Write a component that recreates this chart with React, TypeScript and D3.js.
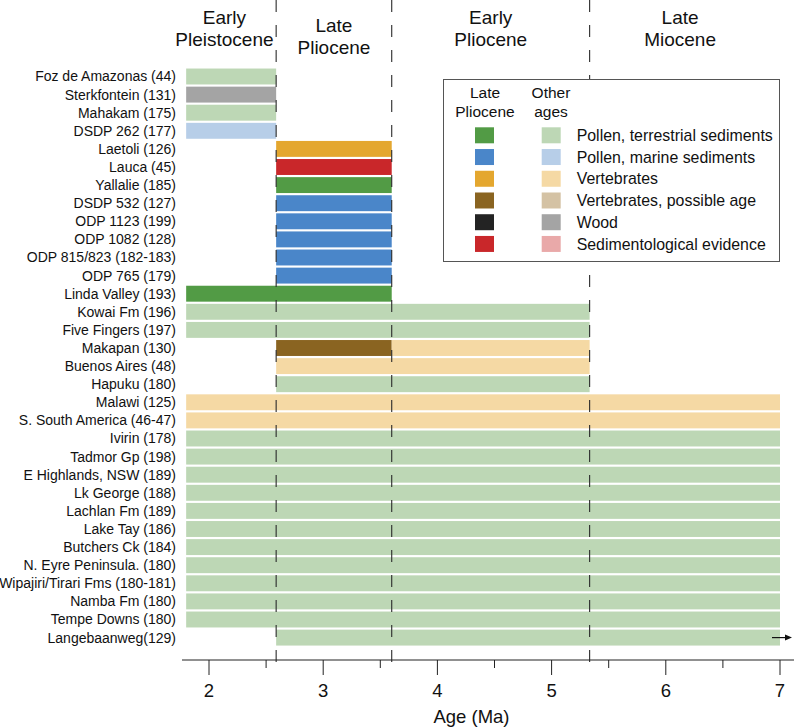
import React from "react";
import * as d3 from "d3";

const siteLabels = [
  "Foz de Amazonas (44)",
  "Sterkfontein (131)",
  "Mahakam (175)",
  "DSDP 262 (177)",
  "Laetoli (126)",
  "Lauca (45)",
  "Yallalie (185)",
  "DSDP 532 (127)",
  "ODP 1123 (199)",
  "ODP 1082 (128)",
  "ODP 815/823 (182-183)",
  "ODP 765 (179)",
  "Linda Valley (193)",
  "Kowai Fm (196)",
  "Five Fingers (197)",
  "Makapan (130)",
  "Buenos Aires (48)",
  "Hapuku (180)",
  "Malawi (125)",
  "S. South America (46-47)",
  "Ivirin (178)",
  "Tadmor Gp (198)",
  "E Highlands, NSW (189)",
  "Lk George (188)",
  "Lachlan Fm (189)",
  "Lake Tay (186)",
  "Butchers Ck (184)",
  "N. Eyre Peninsula. (180)",
  "Wipajiri/Tirari Fms (180-181)",
  "Namba Fm (180)",
  "Tempe Downs (180)",
  "Langebaanweg(129)",
];

// [siteIndex, fromAge, toAge, proxyIndex, latePliocene(1) / other ages(0)]
const segments: [number, number, number, number, number][] = [
  [0, 1.8, 2.588, 0, 0],
  [1, 1.8, 2.588, 4, 0],
  [2, 1.8, 2.588, 0, 0],
  [3, 1.8, 2.588, 1, 0],
  [4, 2.588, 3.6, 2, 1],
  [5, 2.588, 3.6, 5, 1],
  [6, 2.588, 3.6, 0, 1],
  [7, 2.588, 3.6, 1, 1],
  [8, 2.588, 3.6, 1, 1],
  [9, 2.588, 3.6, 1, 1],
  [10, 2.588, 3.6, 1, 1],
  [11, 2.588, 3.6, 1, 1],
  [12, 1.8, 3.6, 0, 1],
  [13, 1.8, 5.333, 0, 0],
  [14, 1.8, 5.333, 0, 0],
  [15, 2.588, 3.6, 3, 1],
  [15, 3.6, 5.333, 2, 0],
  [16, 2.588, 5.333, 2, 0],
  [17, 2.588, 5.333, 0, 0],
  [18, 1.8, 7, 2, 0],
  [19, 1.8, 7, 2, 0],
  [20, 1.8, 7, 0, 0],
  [21, 1.8, 7, 0, 0],
  [22, 1.8, 7, 0, 0],
  [23, 1.8, 7, 0, 0],
  [24, 1.8, 7, 0, 0],
  [25, 1.8, 7, 0, 0],
  [26, 1.8, 7, 0, 0],
  [27, 1.8, 7, 0, 0],
  [28, 1.8, 7, 0, 0],
  [29, 1.8, 7, 0, 0],
  [30, 1.8, 7, 0, 0],
  [31, 2.588, 7, 0, 0],
];

const openEndedSites = [31];

const proxyLabels = [
  "Pollen, terrestrial sediments",
  "Pollen, marine sediments",
  "Vertebrates",
  "Vertebrates, possible age",
  "Wood",
  "Sedimentological evidence",
];
const lateColors = ["#529b45", "#4a86c9", "#e4a72f", "#8a6421", "#232323", "#c9272a"];
const otherColors = ["#bdd7b5", "#b7cee8", "#f5d9a4", "#d4c2a4", "#a4a4a4", "#e9a9a9"];

const boundaries = [2.588, 3.6, 5.333];
const epochLines = [
  ["Early", "Pleistocene"],
  ["Late", "Pliocene"],
  ["Early", "Pliocene"],
  ["Late", "Miocene"],
];
const epochCenters = [2.135, 3.094, 4.467, 6.125];

const majorTicks = [2, 3, 4, 5, 6, 7];
const minorTicks = [2.5, 3.5, 4.5, 5.5, 6.5];

const W = 796;
const H = 728;
const FONT = "'Liberation Sans', Arial, Helvetica, sans-serif";

export default function App() {
  const x = d3.scaleLinear().domain([2, 7]).range([209, 780]);
  const y = d3
    .scaleBand<string>()
    .domain(siteLabels)
    .range([67.45, 67.45 + 32 * 18.1])
    .paddingInner(0.12)
    .paddingOuter(0.06);
  const axisY = 660;
  const labelRight = 176;

  const legend = { x0: 443.5, y0: 79.5, x1: 779.5, y1: 261.5 };
  const legendRow = d3.scaleLinear().domain([0, 1]).range([127.3, 127.3 + 21.73]);

  return (
    <svg
      width={W}
      height={H}
      viewBox={`0 0 ${W} ${H}`}
      style={{ position: "absolute", left: 0, top: 0, background: "#fff" }}
      fontFamily={FONT}
    >
      <rect x={0} y={0} width={W} height={H} fill="#fff" />

      {/* bars */}
      {segments.map(([si, from, to, p, late], i) => {
        const name = siteLabels[si];
        return (
          <rect
            key={i}
            x={x(from)}
            y={y(name)}
            width={x(to) - x(from)}
            height={y.bandwidth()}
            fill={late ? lateColors[p] : otherColors[p]}
          />
        );
      })}

      {/* site labels */}
      {siteLabels.map((name) => (
        <text
          key={name}
          x={labelRight}
          y={(y(name) as number) + y.bandwidth() / 2}
          dy="0.35em"
          textAnchor="end"
          fontSize={14}
          fill="#111"
        >
          {name}
        </text>
      ))}

      {/* dashed epoch boundaries */}
      {boundaries.map((b) => (
        <line
          key={b}
          x1={x(b)}
          x2={x(b)}
          y1={0}
          y2={663}
          stroke="#2b2b2b"
          strokeWidth={1.1}
          strokeDasharray="12,13"
        />
      ))}

      {/* open-ended arrow */}
      {openEndedSites.map((si) => {
        const cy = (y(siteLabels[si]) as number) + y.bandwidth() / 2;
        const xs = x(7) - 8;
        const xe = x(7) + 12;
        return (
          <g key={si}>
            <line x1={xs} x2={xe - 5} y1={cy} y2={cy} stroke="#111" strokeWidth={1.2} />
            <path d={`M${xe},${cy} L${xe - 7},${cy - 3} L${xe - 7},${cy + 3} Z`} fill="#111" />
          </g>
        );
      })}

      {/* epoch headers */}
      {epochLines.map((lines, i) => {
        const off = i === 1 ? 8.3 : 0;
        return (
          <g key={i}>
            {lines.map((t, j) => (
              <text
                key={j}
                x={x(epochCenters[i])}
                y={23.5 + off + j * 22.2}
                textAnchor="middle"
                fontSize={19}
                fill="#111"
              >
                {t}
              </text>
            ))}
          </g>
        );
      })}

      {/* legend */}
      <rect
        x={legend.x0}
        y={legend.y0}
        width={legend.x1 - legend.x0}
        height={legend.y1 - legend.y0}
        fill="#fff"
        stroke="#555"
        strokeWidth={1}
      />
      <text x={485} y={98.3} textAnchor="middle" fontSize={15.5} fill="#111">Late</text>
      <text x={485} y={116.5} textAnchor="middle" fontSize={15.5} fill="#111">Pliocene</text>
      <text x={551} y={98.3} textAnchor="middle" fontSize={15.5} fill="#111">Other</text>
      <text x={551} y={116.5} textAnchor="middle" fontSize={15.5} fill="#111">ages</text>
      {proxyLabels.map((lab, k) => {
        const top = legendRow(k);
        return (
          <g key={lab}>
            <rect x={475} y={top} width={19} height={16} fill={lateColors[k]} />
            <rect x={541.7} y={top} width={19} height={16} fill={otherColors[k]} />
            <text x={576.7} y={top + 8} dy="0.35em" fontSize={15.9} fill="#111">
              {lab}
            </text>
          </g>
        );
      })}

      {/* x axis */}
      <line x1={182} x2={794} y1={axisY} y2={axisY} stroke="#222" strokeWidth={1} />
      {majorTicks.map((t) => (
        <g key={t}>
          <line x1={x(t)} x2={x(t)} y1={axisY} y2={axisY + 15} stroke="#222" strokeWidth={1} />
          <text x={x(t)} y={697} textAnchor="middle" fontSize={18.5} fill="#111">
            {d3.format("d")(t)}
          </text>
        </g>
      ))}
      {minorTicks.map((t) => (
        <line key={t} x1={x(t)} x2={x(t)} y1={axisY} y2={axisY + 8} stroke="#222" strokeWidth={1} />
      ))}
      <text x={471.5} y={723} textAnchor="middle" fontSize={18.5} fill="#111">
        Age (Ma)
      </text>
    </svg>
  );
}
